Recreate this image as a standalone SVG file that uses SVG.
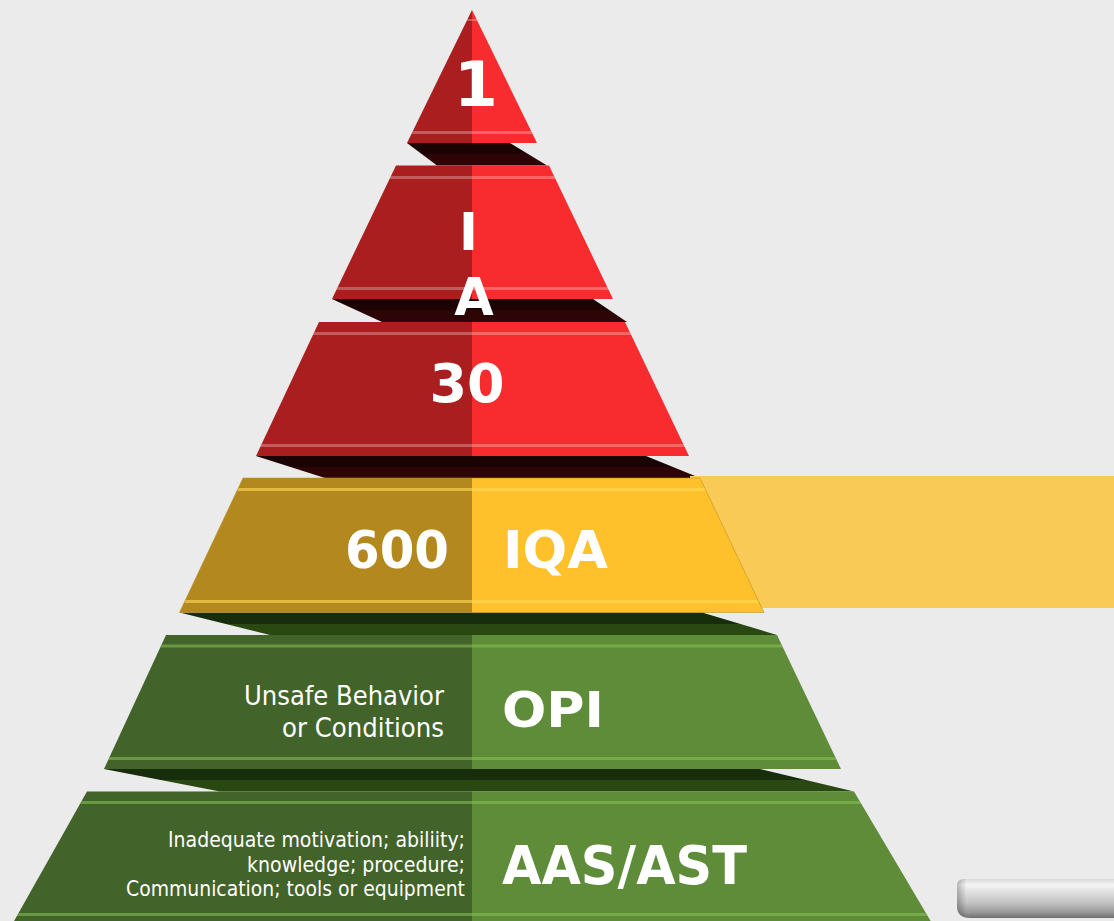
<svg xmlns="http://www.w3.org/2000/svg" width="1114" height="921" viewBox="0 0 1114 921">
<style>
.big{font-family:"DejaVu Sans",Verdana,sans-serif;font-weight:bold;fill:#ffffff}
.reg{font-family:"DejaVu Sans",Verdana,sans-serif;fill:#ffffff}
.rdk{fill:#aa1e1f}.rlt{fill:#f82c2e}
.ydk{fill:#b3891f}.ylt{fill:#fec12c}
.gdk{fill:#42632a}.glt{fill:#5e8c39}
.rhl{fill:#ffffff;opacity:0.28}
.yhl{fill:#ffdc55;opacity:0.6}
.ghl{fill:#8dc556;opacity:0.55}
</style>
<defs>
<linearGradient id="shR" x1="0" y1="0" x2="0" y2="1"><stop offset="0" stop-color="#1b0203"/><stop offset="0.5" stop-color="#1b0203"/><stop offset="0.5" stop-color="#2d0507"/><stop offset="1" stop-color="#2d0507"/></linearGradient>
<linearGradient id="shG" x1="0" y1="0" x2="0" y2="1"><stop offset="0" stop-color="#172d0c"/><stop offset="0.5" stop-color="#172d0c"/><stop offset="0.5" stop-color="#2a4812"/><stop offset="1" stop-color="#2a4812"/></linearGradient>
<linearGradient id="metal" x1="0" y1="0" x2="0" y2="1"><stop offset="0" stop-color="#d9d9d9"/><stop offset="0.15" stop-color="#f4f4f4"/><stop offset="0.6" stop-color="#c4c4c4"/><stop offset="0.85" stop-color="#9a9a9a"/><stop offset="1" stop-color="#6e6e6e"/></linearGradient>
<linearGradient id="metalH" x1="0" y1="0" x2="1" y2="0"><stop offset="0" stop-color="#000" stop-opacity="0.25"/><stop offset="0.06" stop-color="#000" stop-opacity="0"/><stop offset="1" stop-color="#000" stop-opacity="0"/></linearGradient>
<clipPath id="c1"><polygon points="472,10 537,143 407,143"/></clipPath>
<clipPath id="c2"><polygon points="396,165.5 549,165.5 613,299 332,299"/></clipPath>
<clipPath id="c3"><polygon points="319,322 625,322 689,456 256,456"/></clipPath>
<clipPath id="c4"><polygon points="243,478 700,478 764,612.5 179.5,612.5"/></clipPath>
<clipPath id="c5"><polygon points="166,635 777,635 841,769 104,769"/></clipPath>
<clipPath id="c6"><polygon points="87,791.5 854,791.5 936,930 9,930"/></clipPath>
</defs>
<rect x="0" y="0" width="1114" height="921" fill="#ebebeb"/>

<g id="shadows">
<polygon points="407,143 510,143 547,165.5 437,165.5" fill="url(#shR)"/>
<polygon points="332,299 593,299 627,322 382,322" fill="url(#shR)"/>
<polygon points="256,456 646,456 700,478 325,478" fill="url(#shR)"/>
<polygon points="179.5,612.5 702,612.5 777,635 270,635" fill="url(#shG)"/>
<polygon points="104,769 760,769 854,791.5 220,791.5" fill="url(#shG)"/>
</g>

<g id="band">
<rect x="690" y="476" width="424" height="132" fill="#f9cb56"/>
</g>

<g id="tier1">
<g clip-path="url(#c1)">
<rect class="rdk" x="400" y="0" width="72" height="150"/>
<rect class="rlt" x="472" y="0" width="72" height="150"/>
<rect class="rhl" x="400" y="19" width="150" height="2"/>
<rect class="rhl" x="400" y="131" width="150" height="3"/>
</g>
<text class="big" x="476" y="106" font-size="63" text-anchor="middle">1</text>
</g>

<g id="tier2">
<g clip-path="url(#c2)">
<rect class="rdk" x="320" y="160" width="152" height="145"/>
<rect class="rlt" x="472" y="160" width="150" height="145"/>
<rect class="rhl" x="320" y="176" width="310" height="3"/>
<rect class="rhl" x="320" y="287" width="310" height="3"/>
</g>
<text class="big" x="468.5" y="250" font-size="51" text-anchor="middle">I</text>
</g>

<g id="tier3">
<g clip-path="url(#c3)">
<rect class="rdk" x="250" y="318" width="222" height="142"/>
<rect class="rlt" x="472" y="318" width="222" height="142"/>
<rect class="rhl" x="250" y="332" width="450" height="3"/>
<rect class="rhl" x="250" y="444" width="450" height="3"/>
</g>
<text class="big" x="467" y="401.5" font-size="54" text-anchor="middle">30</text>
</g>

<text class="big" x="474" y="315" font-size="51" text-anchor="middle">A</text>

<g id="tier4">
<g clip-path="url(#c4)">
<rect class="ydk" x="170" y="470" width="302" height="150"/>
<rect class="ylt" x="472" y="470" width="300" height="150"/>
<rect class="yhl" x="170" y="488" width="600" height="3"/>
<rect class="yhl" x="170" y="600" width="600" height="3"/>
</g>
<polygon points="243,478 700,478 764,612.5 179.5,612.5" fill="none" stroke="#b8901c" stroke-width="0.8" stroke-opacity="0.7"/>
<text class="big" x="449" y="568" font-size="52" text-anchor="end" textLength="104" lengthAdjust="spacingAndGlyphs">600</text>
<text class="big" x="503" y="568" font-size="52" textLength="105" lengthAdjust="spacingAndGlyphs">IQA</text>
</g>

<g id="tier5">
<g clip-path="url(#c5)">
<rect class="gdk" x="100" y="630" width="372" height="145"/>
<rect class="glt" x="472" y="630" width="380" height="145"/>
<rect class="ghl" x="100" y="644.5" width="750" height="3"/>
<rect class="ghl" x="100" y="757" width="750" height="3"/>
</g>
<text class="reg" x="444" y="705" font-size="26" text-anchor="end" textLength="200" lengthAdjust="spacingAndGlyphs">Unsafe Behavior</text>
<text class="reg" x="444" y="737" font-size="26" text-anchor="end" textLength="162" lengthAdjust="spacingAndGlyphs">or Conditions</text>
<text class="big" x="502" y="727" font-size="49" textLength="102" lengthAdjust="spacingAndGlyphs">OPI</text>
</g>

<g id="tier6">
<g clip-path="url(#c6)">
<rect class="gdk" x="0" y="785" width="472" height="140"/>
<rect class="glt" x="472" y="785" width="470" height="140"/>
<rect class="ghl" x="0" y="801" width="940" height="3"/>
<rect class="ghl" x="0" y="913" width="940" height="3"/>
</g>
<text class="reg" x="465" y="847" font-size="21" text-anchor="end" textLength="297" lengthAdjust="spacingAndGlyphs">Inadequate motivation; abiliity;</text>
<text class="reg" x="465" y="871.5" font-size="21" text-anchor="end" textLength="218" lengthAdjust="spacingAndGlyphs">knowledge; procedure;</text>
<text class="reg" x="465" y="896" font-size="21" text-anchor="end" textLength="339" lengthAdjust="spacingAndGlyphs">Communication; tools or equipment</text>
<text class="big" x="502" y="884" font-size="54" textLength="245" lengthAdjust="spacingAndGlyphs">AAS/AST</text>
</g>

<g id="device">
<path d="M1114,879 L964,879 Q957,879 957,886 L957,906 Q957,918 970,918 L1114,918 Z" fill="url(#metal)"/>
<path d="M1114,879 L964,879 Q957,879 957,886 L957,906 Q957,918 970,918 L1114,918 Z" fill="url(#metalH)"/>
</g>
</svg>
